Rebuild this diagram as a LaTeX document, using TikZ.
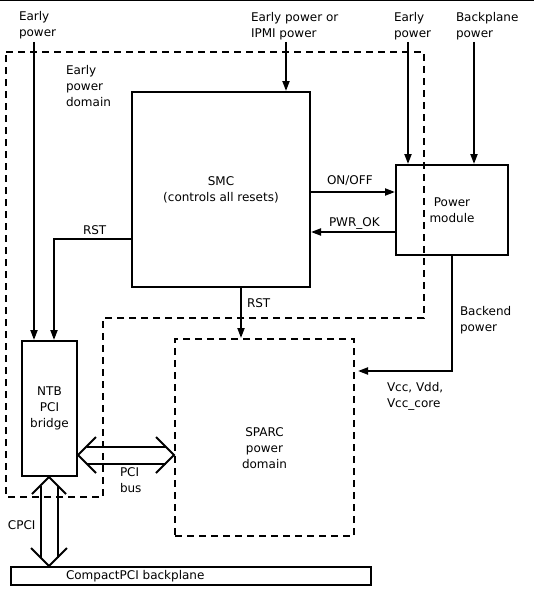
\documentclass[tikz,border=0pt]{standalone}
\usepackage{fontspec}
\setmainfont{DejaVu Sans}
\usepackage{tikz}
\usetikzlibrary{arrows.meta}

\begin{document}
\begin{tikzpicture}[x=1pt,y=-1pt,line width=2pt,
  font=\fontsize{12}{16}\selectfont,
  box/.style={draw,rectangle,inner sep=0pt,align=center},
  dbox/.style={box,dash pattern=on 7pt off 5pt},
  txt/.style={inner sep=0pt,anchor=north west,align=left},
  arr/.style={-{Triangle[length=10pt,width=7pt]}},
  bus/.style={line width=2pt}]
\useasboundingbox (0,0) rectangle (534,594);
\draw[line width=1pt] (0,0.5) -- (534,0.5);

% early power domain
\draw[dash pattern=on 7pt off 5pt] (6,52) -- (424,52) -- (424,318) -- (103,318)
  -- (103,497) -- (6,497) -- cycle;

\node[box,minimum width=178pt,minimum height=195pt] (smc) at (221,189.5) {SMC\\(controls all resets)};
\node[box,minimum width=112pt,minimum height=90pt] (pm) at (452,210) {Power\\module};
\node[box,minimum width=55pt,minimum height=135pt] (ntb) at (49.5,408.5) {NTB\\PCI\\bridge};
\node[dbox,minimum width=179pt,minimum height=197pt,
  label={[align=center,yshift=-11pt]center:SPARC\\power\\domain}] (sparc) at (264.5,437.5) {};
\node[box,minimum width=360pt,minimum height=18pt,
  label={[anchor=west,xshift=55pt,inner sep=0pt]west:CompactPCI backplane}] (bp) at (191,576) {};

% texts
\node[txt] (ep1) at (18,10) {Early\\power};
\node[txt] (ipmi) at (250,11) {Early power or\\IPMI power};
\node[txt] (ep2) at (393,11) {Early\\power};
\node[txt] (bpp) at (455,11) {Backplane\\power};
\node[txt] (epd) at (65,64) {Early\\power\\domain};
\node[txt] (onoff) at (326,175) {ON/OFF};
\node[txt] (pwrok) at (328,217) {PWR\_OK};
\node[txt] (rst1) at (82,225) {RST};
\node[txt] (rst2) at (246,298) {RST};
\node[txt] (bep) at (459,305) {Backend\\power};
\node[txt] (vcc) at (386,381) {Vcc, Vdd,\\Vcc\_core};
\node[txt] (pcib) at (119,467) {PCI\\bus};
\node[txt] (cpcil) at (7,520) {CPCI};

% routing points
\coordinate (e1) at (34,42);
\coordinate (e2) at (286,42);
\coordinate (e3) at (408,42);
\coordinate (e4) at (474,42);
\coordinate (on) at (350,192);
\coordinate (ok) at (350,232);
\coordinate (rb) at (241,300);
\coordinate (be) at (452,371);
\coordinate (pcibus) at (120,455);
\coordinate (cpci) at (49,520);

% signals
\draw[arr] (e1) -- (e1 |- ntb.north);
\draw[arr] (e2) -- (e2 |- smc.north);
\draw[arr] (e3) -- (e3 |- pm.north);
\draw[arr] (e4) -- (e4 |- pm.north);
\draw[arr] (smc.east |- on) -- (pm.west |- on);
\draw[arr] (pm.west |- ok) -- (smc.east |- ok);
\draw[arr] ([yshift=-49.5pt]smc.west) -| ([xshift=4.5pt]ntb.north);
\draw[arr] (smc.south -| rb) -- (sparc.north -| rb);
\draw[arr,shorten >=3pt] (pm.south -| be) |- (sparc.east |- be);

% PCI bus
\coordinate (pa) at (ntb.east |- pcibus);
\coordinate (pb) at (sparc.west |- pcibus);
\draw[bus] (pa) ++(18,-18) -- (pa) -- ++(18,18);
\draw[bus] (pb) ++(-18,-18) -- (pb) -- ++(-18,18);
\draw[bus] ([xshift=8.5pt,yshift=8.5pt]pa) -- ([xshift=-8.5pt,yshift=8.5pt]pb);
\draw[bus] ([xshift=8.5pt,yshift=-8.5pt]pa) -- ([xshift=-8.5pt,yshift=-8.5pt]pb);

% CPCI
\coordinate (ca) at (ntb.south -| cpci);
\coordinate (cb) at (bp.north -| cpci);
\draw[bus] (ca) ++(-17,17) -- (ca) -- ++(17,17);
\draw[bus] (cb) ++(-18,-18) -- (cb) -- ++(18,-18);
\draw[bus] ([xshift=-8.5pt,yshift=-8.5pt]ca) -- ([xshift=-8.5pt,yshift=8.5pt]cb);
\draw[bus] ([xshift=8.5pt,yshift=-8.5pt]ca) -- ([xshift=8.5pt,yshift=8.5pt]cb);
\end{tikzpicture}
\end{document}
